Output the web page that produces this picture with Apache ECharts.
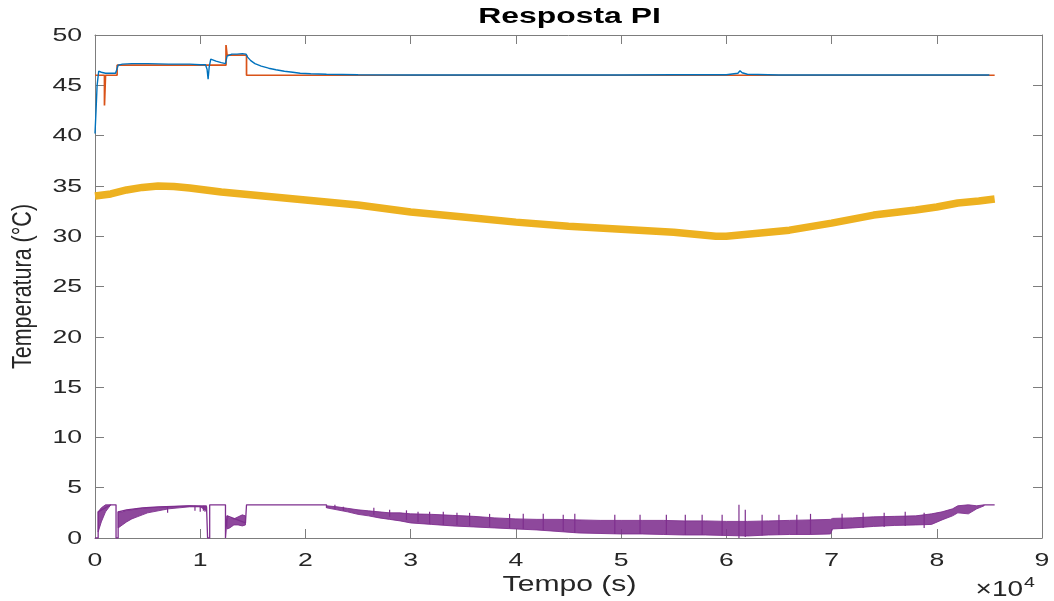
<!DOCTYPE html>
<html>
<head>
<meta charset="utf-8">
<script src="https://cdn.jsdelivr.net/npm/echarts@6/dist/echarts.min.js"></script>
<style>html,body{margin:0;padding:0;background:#fff}#c{width:1054px;height:601px}</style>
</head>
<body>
<div id="c"></div>
<script>
// ---- tick labels ----
const xTicks = [0,1,2,3,4,5,6,7,8,9];
const yTicks = [0,5,10,15,20,25,30,35,40,45,50];

// ---- measured temperature (blue), time in 1e4 s ----
const blueT = [0,0.01,0.02,0.035,0.06,0.1,0.15,0.195,0.205,0.22,0.26,0.35,0.5,0.7,0.9,1.0,1.05,1.065,1.075,1.085,1.1,1.15,1.2,1.24,1.255,1.27,1.3,1.35,1.4,1.435,1.45,1.48,1.52,1.58,1.65,1.72,1.8,1.88,1.95,2.05,2.2,2.5,3.0,3.5,4.0,4.5,5.0,5.5,6.0,6.11,6.13,6.15,6.2,6.5,7.0,7.5,8.0,8.5];
const blueV = [40.2,42.5,45.0,46.4,46.3,46.2,46.2,46.2,46.5,47.0,47.1,47.15,47.15,47.1,47.1,47.05,47.05,46.6,45.6,46.8,47.6,47.4,47.25,47.15,47.9,48.05,48.1,48.1,48.15,48.1,47.8,47.45,47.15,46.9,46.7,46.55,46.4,46.3,46.2,46.15,46.1,46.05,46.02,46.02,46.02,46.02,46.02,46.05,46.05,46.2,46.45,46.25,46.1,46.02,46.02,46.02,46.02,46.02];

// ---- setpoint (orange) ----
const spT = [0,0.09,0.09,0.1,0.1,0.21,0.21,1.245,1.245,1.255,1.255,1.44,1.44,8.55];
const spV = [46,46,43,43,46,46,47,47,49,49,48,48,46,46];

// ---- ambient temperature (yellow) ----
const ambT = [0,0.15,0.3,0.45,0.6,0.75,0.9,1.2,1.5,2.0,2.5,3.0,3.5,4.0,4.5,5.0,5.5,5.9,6.0,6.3,6.6,7.0,7.4,7.8,8.0,8.2,8.4,8.55];
const ambV = [34.0,34.2,34.6,34.85,35.0,34.95,34.8,34.4,34.1,33.6,33.1,32.4,31.9,31.4,31.0,30.7,30.4,30.0,30.0,30.3,30.6,31.3,32.1,32.6,32.9,33.3,33.5,33.7];

// ---- control signal (purple): thin parts ----
const uLineT = [0,0.03,0.03,0.15,0.2,0.2,0.22,0.22,0.3,0.45,0.6,0.75,0.9,1.06,1.07,1.09,1.09,1.24,1.24,1.255,1.255,1.43,1.44,1.44,2.2,2.2,8.45,8.45,8.55];
const uLineV = [0,0,2.6,3.3,3.3,0,0,2.6,2.8,3.0,3.1,3.15,3.2,3.1,0,0,3.3,3.3,0,0,2.2,1.5,1.5,3.3,3.3,3.0,'-',3.3,3.3];

// ---- control signal (purple): dense oscillation envelopes ----
const bandAT = [0.03,0.06,0.1,0.15];
const bandAHi = [2.6,3.0,3.3,3.3];
const bandALo = [0.6,1.6,2.6,3.3];
const bandBT = [0.22,0.26,0.3,0.35,0.4,0.45,0.5,0.6,0.7,0.8,0.9,1.0,1.06];
const bandBHi = [2.6,2.6,2.75,2.8,2.9,2.95,3.0,3.05,3.1,3.15,3.2,3.2,3.2];
const bandBLo = [1.0,1.3,1.6,1.9,2.1,2.3,2.5,2.7,2.9,3.0,3.1,3.1,2.7];
const bandCT = [1.255,1.28,1.32,1.36,1.4,1.43];
const bandCHi = [2.2,2.0,1.9,2.1,2.3,2.2];
const bandCLo = [0.9,1.0,1.3,1.3,1.2,1.3];
const bandDT = [2.2,2.3,2.4,2.5,2.6,2.7,2.8,2.9,3.0,3.2,3.4,3.6,3.8,4.0,4.2,4.4,4.6,4.8,5.0,5.2,5.4,5.6,5.8,6.0,6.2,6.4,6.6,6.8,6.99,7.01,7.2,7.4,7.6,7.8,7.95,8.05,8.15,8.2,8.3,8.38,8.45];
const bandDHi = [3.2,3.1,2.95,2.8,2.7,2.6,2.5,2.5,2.4,2.35,2.25,2.15,2.0,1.9,1.85,1.85,1.8,1.75,1.75,1.75,1.75,1.7,1.7,1.65,1.65,1.7,1.75,1.8,1.85,1.95,2.0,2.1,2.15,2.2,2.4,2.6,2.9,3.2,3.3,3.2,3.3];
const bandDLo = [3.0,2.8,2.6,2.35,2.2,2.0,1.85,1.7,1.5,1.35,1.2,1.1,1.0,0.9,0.8,0.65,0.5,0.45,0.4,0.4,0.35,0.3,0.3,0.25,0.2,0.3,0.35,0.35,0.4,0.9,1.0,1.15,1.25,1.3,1.35,1.8,2.2,2.5,2.4,2.9,3.2];

// ---- control signal (purple): isolated excursions [t, low, high] ----
const spikeT  = [0.69,0.95,1.0,1.03,1.045,2.28,2.36,2.65,2.8,2.96,3.07,3.18,3.31,3.44,3.56,3.75,3.94,4.07,4.26,4.45,4.56,4.94,5.18,5.43,5.61,5.77,5.96,6.12,6.18,6.34,6.5,6.67,6.8,7.1,7.3,7.5,7.7,7.88];
const spikeLo = [2.5,2.7,2.6,2.7,2.6,2.9,2.7,2.3,2.1,1.8,1.6,1.4,1.3,1.3,1.2,1.1,1.0,0.9,0.8,0.7,0.5,0.4,0.4,0.35,0.3,0.3,0.25,0.0,0.1,0.25,0.3,0.35,0.35,0.9,1.0,1.1,1.2,1.0];
const spikeHi = [3.1,3.2,3.2,3.2,3.2,3.3,3.1,3.0,2.8,2.75,2.6,2.6,2.6,2.5,2.5,2.4,2.4,2.4,2.4,2.3,2.4,2.3,2.3,2.3,2.3,2.3,2.3,3.3,2.8,2.3,2.3,2.3,2.4,2.4,2.5,2.5,2.6,2.5];

const TITLE = 'Resposta PI', XNAME = 'Tempo (s)', YNAME = 'Temperatura (°C)';

const C_BLUE = '#0072BD', C_ORANGE = '#D95319', C_YELLOW = '#EDB120', C_PURPLE = '#7E2F8E';
const AX = '#7d7d7d', LBL = '#262626';
const FONT = '"Liberation Sans", Arial, Helvetica, sans-serif';
const SX = 1.4; // horizontal stretch of the reference's lettering

const zip = (a, b) => a.map((v, i) => [v, b[i]]);
const bands = [
  {t: bandAT, hi: bandAHi, lo: bandALo},
  {t: bandBT, hi: bandBHi, lo: bandBLo},
  {t: bandCT, hi: bandCHi, lo: bandCLo},
  {t: bandDT, hi: bandDHi, lo: bandDLo}
];

const chart = echarts.init(document.getElementById('c'), null, {renderer: 'canvas'});
const axCommon = {
  axisLine: {show: true, onZero: false, lineStyle: {color: AX, width: 1}},
  axisTick: {show: true, inside: true, length: 9, lineStyle: {color: AX, width: 1}},
  axisLabel: {show: false},
  splitLine: {show: false}
};
const xMin = xTicks[0], xMax = xTicks[xTicks.length - 1];
const yMin = yTicks[0], yMax = yTicks[yTicks.length - 1];
chart.setOption({
  animation: false,
  backgroundColor: '#fff',
  grid: {left: 95, right: 12, top: 35, bottom: 63, containLabel: false},
  xAxis: [
    Object.assign({type: 'value', min: xMin, max: xMax, interval: 1, position: 'bottom'}, axCommon),
    Object.assign({type: 'value', min: xMin, max: xMax, interval: 1, position: 'top'}, axCommon)
  ],
  yAxis: [
    Object.assign({type: 'value', min: yMin, max: yMax, interval: 5, position: 'left'}, axCommon),
    Object.assign({type: 'value', min: yMin, max: yMax, interval: 5, position: 'right'}, axCommon)
  ],
  series: [
    {
      type: 'line', name: 'setpoint', data: zip(spT, spV), showSymbol: false, symbol: 'none',
      lineStyle: {color: C_ORANGE, width: 1.7}, z: 2
    },
    {
      type: 'line', name: 'temperatura', data: zip(blueT, blueV), showSymbol: false, symbol: 'none',
      lineStyle: {color: C_BLUE, width: 1.4}, z: 3
    },
    {
      type: 'line', name: 'ambiente', data: zip(ambT, ambV), showSymbol: false, symbol: 'none',
      lineStyle: {color: C_YELLOW, width: 7.5}, z: 4
    },
    {
      type: 'custom', name: 'u-band', coordinateSystem: 'cartesian2d', z: 5,
      data: bands.map((b, i) => [b.t[0], b.lo[0], i]),
      encode: {x: 0, y: 1},
      renderItem: (params, api) => {
        const b = bands[api.value(2)];
        const pts = [];
        for (let i = 0; i < b.t.length; i++) pts.push(api.coord([b.t[i], b.hi[i]]));
        for (let i = b.t.length - 1; i >= 0; i--) pts.push(api.coord([b.t[i], b.lo[i]]));
        return {type: 'polygon', shape: {points: pts}, style: {fill: C_PURPLE, opacity: 0.88, stroke: C_PURPLE, lineWidth: 1}};
      }
    },
    {
      type: 'custom', name: 'u-spikes', coordinateSystem: 'cartesian2d', z: 6,
      data: spikeT.map((t, i) => [t, spikeLo[i], spikeHi[i]]),
      encode: {x: 0, y: [1, 2]},
      renderItem: (params, api) => {
        const p1 = api.coord([api.value(0), api.value(1)]);
        const p2 = api.coord([api.value(0), api.value(2)]);
        return {type: 'line', shape: {x1: p1[0], y1: p1[1], x2: p2[0], y2: p2[1]}, style: {stroke: C_PURPLE, lineWidth: 1.2}};
      }
    },
    {
      type: 'line', name: 'u', data: zip(uLineT, uLineV), showSymbol: false, symbol: 'none', connectNulls: false,
      lineStyle: {color: C_PURPLE, width: 1.3}, z: 6
    }
  ]
});

// ---- text, placed through the grid's own scales ----
const px = (x, y) => chart.convertToPixel({gridIndex: 0}, [x, y]);
const g = [];
xTicks.forEach(v => {
  const p = px(v, yMin);
  g.push({type: 'text', x: p[0], y: p[1] + 22.5, scaleX: SX,
    style: {text: String(v), font: '19px ' + FONT, fill: LBL, align: 'center', verticalAlign: 'middle'}});
});
yTicks.forEach(v => {
  const p = px(xMin, v);
  g.push({type: 'text', x: p[0] - 13, y: p[1] + 0.5, scaleX: SX,
    style: {text: String(v), font: '19px ' + FONT, fill: LBL, align: 'right', verticalAlign: 'middle'}});
});
const tl = px(xMin, yMax), br = px(xMax, yMin);
const cx = (tl[0] + br[0]) / 2, cy = (tl[1] + br[1]) / 2;
g.push({type: 'text', x: cx + 1, y: tl[1] - 18, scaleX: 1.45,
  style: {text: TITLE, font: 'bold 22px ' + FONT, fill: '#000', align: 'center', verticalAlign: 'middle'}});
g.push({type: 'text', x: cx + 1, y: br[1] + 47, scaleX: SX,
  style: {text: XNAME, font: '21.5px ' + FONT, fill: LBL, align: 'center', verticalAlign: 'middle'}});
g.push({type: 'text', x: tl[0] - 71, y: cy + 0, rotation: Math.PI / 2, scaleY: 1.25,
  style: {text: YNAME, font: '21.5px ' + FONT, fill: LBL, align: 'center', verticalAlign: 'middle'}});
g.push({type: 'text', x: br[0] - 19, y: br[1] + 52, scaleX: 1.3,
  style: {text: '×10', font: '21.5px ' + FONT, fill: LBL, align: 'right', verticalAlign: 'middle'}});
g.push({type: 'text', x: br[0] - 18, y: br[1] + 45, scaleX: 1.3,
  style: {text: '4', font: '15px ' + FONT, fill: LBL, align: 'left', verticalAlign: 'middle'}});
chart.setOption({graphic: g});
</script>
</body>
</html>
